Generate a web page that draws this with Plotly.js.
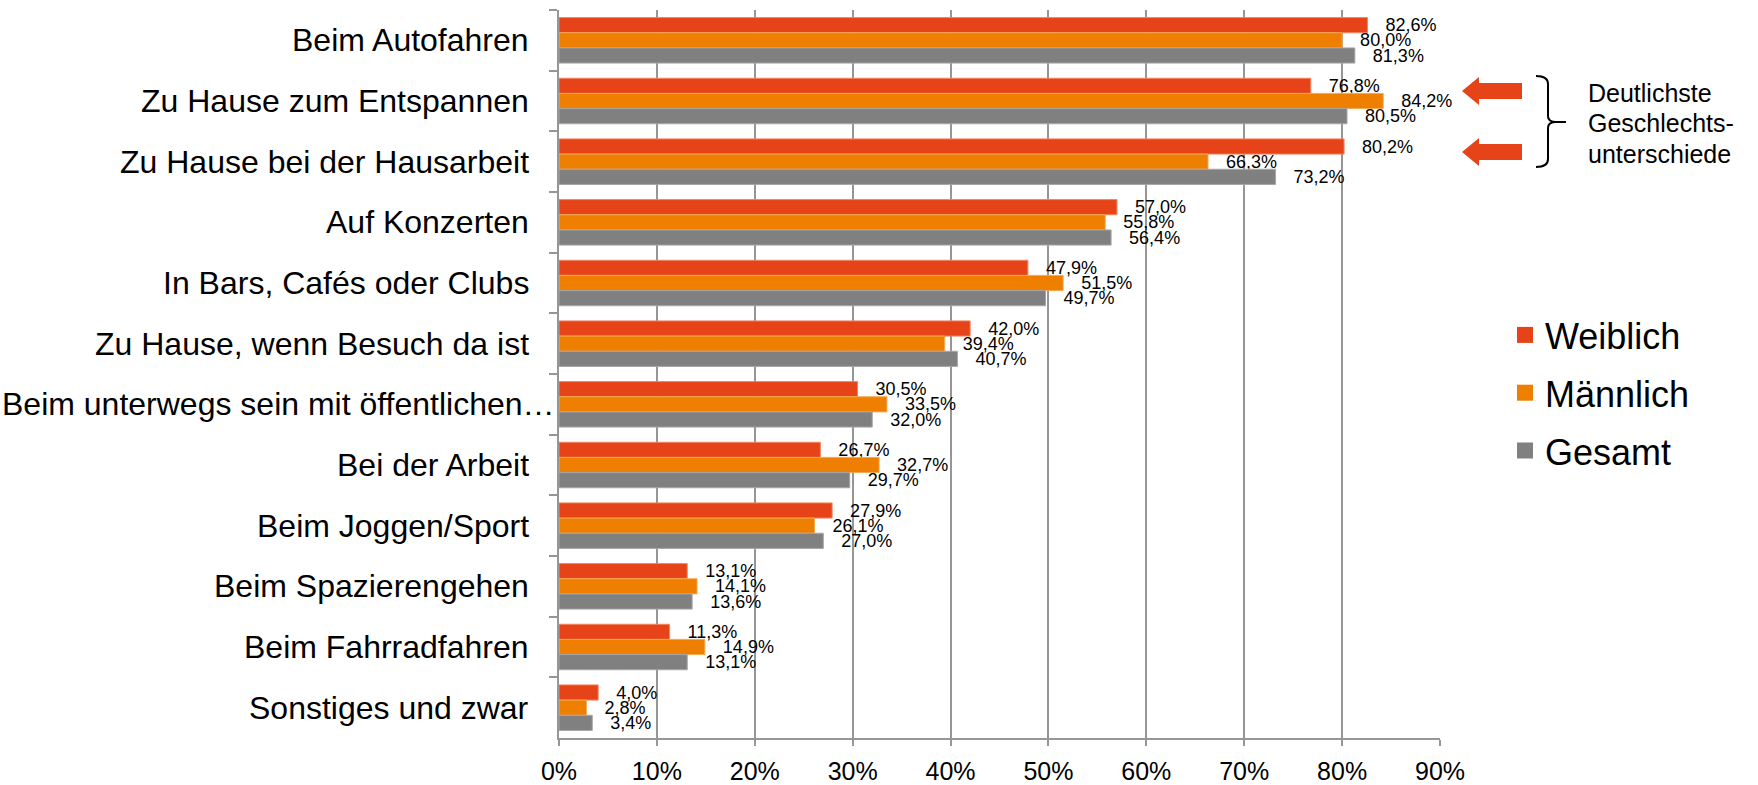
<!DOCTYPE html>
<html>
<head>
<meta charset="utf-8">
<script src="https://cdn.plot.ly/plotly-3.0.1.min.js"></script>
<style>html,body{margin:0;padding:0;background:#fff;}#chart{width:1758px;height:785px;}</style>
</head>
<body>
<div id="chart"></div>
<script>
const categories = [
  "Beim Autofahren",
  "Zu Hause zum Entspannen",
  "Zu Hause bei der Hausarbeit",
  "Auf Konzerten",
  "In Bars, Cafés oder Clubs",
  "Zu Hause, wenn Besuch da ist",
  "Beim unterwegs sein mit öffentlichen…",
  "Bei der Arbeit",
  "Beim Joggen/Sport",
  "Beim Spazierengehen",
  "Beim Fahrradfahren",
  "Sonstiges und zwar"
];
const weiblich = [82.6, 76.8, 80.2, 57.0, 47.9, 42.0, 30.5, 26.7, 27.9, 13.1, 11.3, 4.0];
const maennlich = [80.0, 84.2, 66.3, 55.8, 51.5, 39.4, 33.5, 32.7, 26.1, 14.1, 14.9, 2.8];
const gesamt = [81.3, 80.5, 73.2, 56.4, 49.7, 40.7, 32.0, 29.7, 27.0, 13.6, 13.1, 3.4];
const seriesNames = ["Weiblich", "Männlich", "Gesamt"];
const seriesColors = ["#E64418", "#EE7F00", "#808080"];
const edgeColors = ["#F2855F", "#F5A94F", "#A6A6A6"];
const xTickVals = [0, 10, 20, 30, 40, 50, 60, 70, 80, 90];
const xTickText = ["0%", "10%", "20%", "30%", "40%", "50%", "60%", "70%", "80%", "90%"];
const noteLines = ["Deutlichste", "Geschlechts-", "unterschiede"];

const FONT = "Arial, 'Liberation Sans', sans-serif";
const GRID = "#969696";

// plot area in pixels (for decoration shapes)
const L = 559, R = 1440, T = 10, B = 738;
const px = X => (X - L) / (R - L);
const py = Y => (B - Y) / (B - T);

const seriesData = [weiblich, maennlich, gesamt];
const traces = seriesData.map((vals, i) => ({
  type: "bar",
  orientation: "h",
  name: seriesNames[i],
  y: categories,
  x: vals,
  marker: { color: seriesColors[i], line: { color: edgeColors[i], width: 1 } },
  texttemplate: "\u00a0\u00a0\u00a0%{x:.1f}%",
  textposition: "outside",
  constraintext: "none",
  cliponaxis: false,
  textfont: { family: FONT, size: 18, color: "#000" },
  showlegend: false,
  hoverinfo: "x+name"
}));

// legend entries
seriesNames.forEach((n, i) => {
  traces.push({
    type: "scatter", mode: "markers", name: n,
    x: [null], y: [null],
    marker: { symbol: "square", size: 19, color: seriesColors[i] },
    legendgroup: "g" + i, showlegend: true, hoverinfo: "skip"
  });
});

function pathFrom(cmds) {
  return cmds.map(c => {
    if (c[0] === "Z") return "Z";
    if (c[0] === "Q") return "Q" + px(c[1]) + "," + py(c[2]) + " " + px(c[3]) + "," + py(c[4]);
    return c[0] + px(c[1]) + "," + py(c[2]);
  }).join(" ");
}

function arrow(cy) {
  return pathFrom([
    ["M", 1462, cy], ["L", 1479, cy - 14], ["L", 1479, cy - 8], ["L", 1522, cy - 8],
    ["L", 1522, cy + 8], ["L", 1479, cy + 8], ["L", 1479, cy + 14], ["Z"]
  ]);
}

const bracePath = pathFrom([
  ["M", 1536, 76], ["Q", 1548, 76, 1548, 84], ["L", 1548, 116], ["Q", 1548, 122, 1556, 122],
  ["L", 1566, 122], ["M", 1556, 122], ["Q", 1548, 122, 1548, 128], ["L", 1548, 159],
  ["Q", 1548, 167, 1536, 167]
]);

const shapes = [
  { type: "path", xref: "paper", yref: "paper", path: arrow(91), fillcolor: "#E64418", line: { width: 0 } },
  { type: "path", xref: "paper", yref: "paper", path: arrow(152), fillcolor: "#E64418", line: { width: 0 } },
  { type: "path", xref: "paper", yref: "paper", path: bracePath, line: { color: "#000", width: 2 } }
];

const noteY = [93, 123, 154];
const annotations = noteLines.map((t, i) => ({
  xref: "paper", yref: "paper", x: px(1586), y: py(noteY[i]),
  xanchor: "left", yanchor: "middle", showarrow: false, text: t,
  font: { family: FONT, size: 25, color: "#000" }
}));

// category labels, placed on the category axis
categories.forEach(c => {
  const long = c.endsWith("…");
  annotations.push({
    xref: "paper", yref: "y", x: px(long ? 557 : 531), y: c,
    xanchor: "right", yanchor: "middle", showarrow: false, text: c,
    font: { family: FONT, size: 32, color: "#000" }
  });
});

const layout = {
  width: 1758, height: 785, autosize: false,
  margin: { l: L, r: 1758 - R, t: T, b: 785 - B, pad: 0 },
  paper_bgcolor: "#fff", plot_bgcolor: "#fff",
  separators: ",.",
  font: { family: FONT, color: "#000" },
  barmode: "group", bargap: 0.25, bargroupgap: 0,
  xaxis: {
    range: [0, 90], tickmode: "array", tickvals: xTickVals, ticktext: xTickText,
    showgrid: true, gridcolor: GRID, gridwidth: 2,
    showline: true, linecolor: GRID, linewidth: 2,
    ticks: "outside", ticklen: 6, tickcolor: GRID, tickwidth: 2,
    zeroline: false, tickfont: { family: FONT, size: 25, color: "#000" },
    ticklabelstandoff: 4, fixedrange: true
  },
  yaxis: {
    type: "category", autorange: "reversed",
    tickson: "boundaries", ticks: "outside", ticklen: 8, tickcolor: GRID, tickwidth: 2,
    showline: true, linecolor: GRID, linewidth: 2, showgrid: false, zeroline: false,
    showticklabels: false, fixedrange: true
  },
  showlegend: true,
  legend: {
    x: px(1505), y: py(305), xanchor: "left", yanchor: "top",
    font: { family: FONT, size: 36, color: "#000" },
    bgcolor: "rgba(0,0,0,0)", borderwidth: 0,
    tracegroupgap: 8, itemsizing: "trace"
  },
  shapes: shapes,
  annotations: annotations
};

Plotly.newPlot("chart", traces, layout, { displayModeBar: false, staticPlot: true });
</script>
</body>
</html>
